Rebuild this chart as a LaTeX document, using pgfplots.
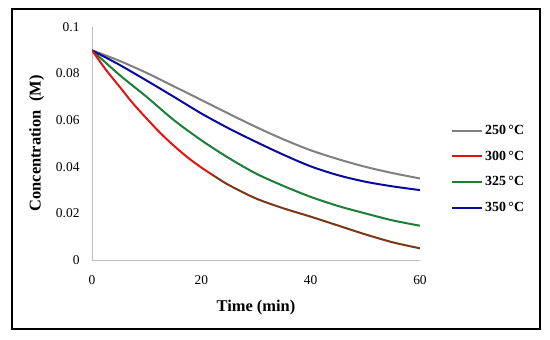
\documentclass[border=0pt]{standalone}
\usepackage{fontspec}
\setmainfont{Liberation Serif}
\usepackage{pgfplots}
\pgfplotsset{compat=1.18}
\definecolor{cgray}{RGB}{128,128,128}
\definecolor{cred}{RGB}{225,20,20}
\definecolor{cbrown}{RGB}{120,55,25}
\definecolor{cgreen}{RGB}{30,125,55}
\definecolor{cblue}{RGB}{10,10,160}
\definecolor{axgray}{RGB}{190,190,190}
\begin{document}
\begin{tikzpicture}
\path[use as bounding box] (-92bp,-80bp) rectangle (458bp,260bp);
\draw[black, line width=1.3bp] (-80bp,-69bp) rectangle (448bp,251bp);
\begin{axis}[
  scale only axis, width=328bp, height=233bp,
  xmin=0, xmax=60, ymin=0, ymax=0.1,
  xtick={0,20,40,60}, ytick={0,0.02,0.04,0.06,0.08,0.1},
  axis x line*=bottom, axis y line*=left,
  axis line style={axgray, line width=1bp, -},
  major tick length=0pt,
  /pgf/number format/assume math mode=true,
  yticklabel style={/pgf/number format/fixed, /pgf/number format/precision=2, font=\fontsize{13.5}{15}\selectfont, xshift=-9bp},
  xticklabel style={font=\fontsize{13.5}{15}\selectfont, yshift=-12bp},
  xlabel={\textbf{Time (min)}},
  ylabel={\textbf{Concentration\ \ (M)}},
  label style={font=\fontsize{16.5}{19}\selectfont},
  xlabel style={yshift=-9bp},
  ylabel style={yshift=5bp},
  legend style={at={(359bp,137bp)}, anchor=north west, font=\fontsize{14}{16}\selectfont\bfseries, row sep=11bp, inner sep=0pt, draw=none, fill=none},
  legend cell align=left,
  every axis plot/.append style={line width=2bp, smooth},
]
\addlegendimage{cgray, legend image code/.code={\draw[cgray, line width=2bp] (0bp,0bp) -- (30bp,0bp);}}
\addlegendentry{250\,°C}
\addlegendimage{cred, legend image code/.code={\draw[cred, line width=2bp] (0bp,0bp) -- (30bp,0bp);}}
\addlegendentry{300\,°C}
\addlegendimage{cgreen, legend image code/.code={\draw[cgreen, line width=2bp] (0bp,0bp) -- (30bp,0bp);}}
\addlegendentry{325\,°C}
\addlegendimage{cblue, legend image code/.code={\draw[cblue, line width=2bp] (0bp,0bp) -- (30bp,0bp);}}
\addlegendentry{350\,°C}
\addplot[cgray, forget plot] coordinates {(0,0.090) (5,0.0855) (10,0.0803) (15,0.0745) (20,0.0687) (25,0.0628) (30,0.0571) (35,0.0518) (40,0.0471) (45,0.0433) (50,0.0400) (55,0.0373) (60,0.0350)};
\addplot[cgreen, forget plot] coordinates {(0,0.090) (5,0.0795) (10,0.0700) (15,0.0600) (20,0.0514) (25,0.0438) (30,0.0371) (35,0.0318) (40,0.0271) (45,0.0232) (50,0.0200) (55,0.0170) (60,0.0147)};
\addplot[cblue, forget plot] coordinates {(0,0.090) (5,0.0838) (10,0.0770) (15,0.0700) (20,0.0629) (25,0.0565) (30,0.0507) (35,0.0452) (40,0.0402) (45,0.0364) (50,0.0336) (55,0.0316) (60,0.0300)};
\addplot[cred, forget plot] coordinates {(0,0.090) (2.5,0.0818) (5,0.0745) (7.5,0.0672) (10,0.0607) (12.5,0.0545) (15,0.0490) (17.5,0.0440) (20,0.0397) (22,0.0366)};
\addplot[cbrown, forget plot] coordinates {(22,0.0366) (25,0.0322) (30,0.0264) (35,0.0222) (40,0.0186) (45,0.0148) (50,0.0110) (55,0.0076) (60,0.0050)};
\end{axis}
\end{tikzpicture}
\end{document}
